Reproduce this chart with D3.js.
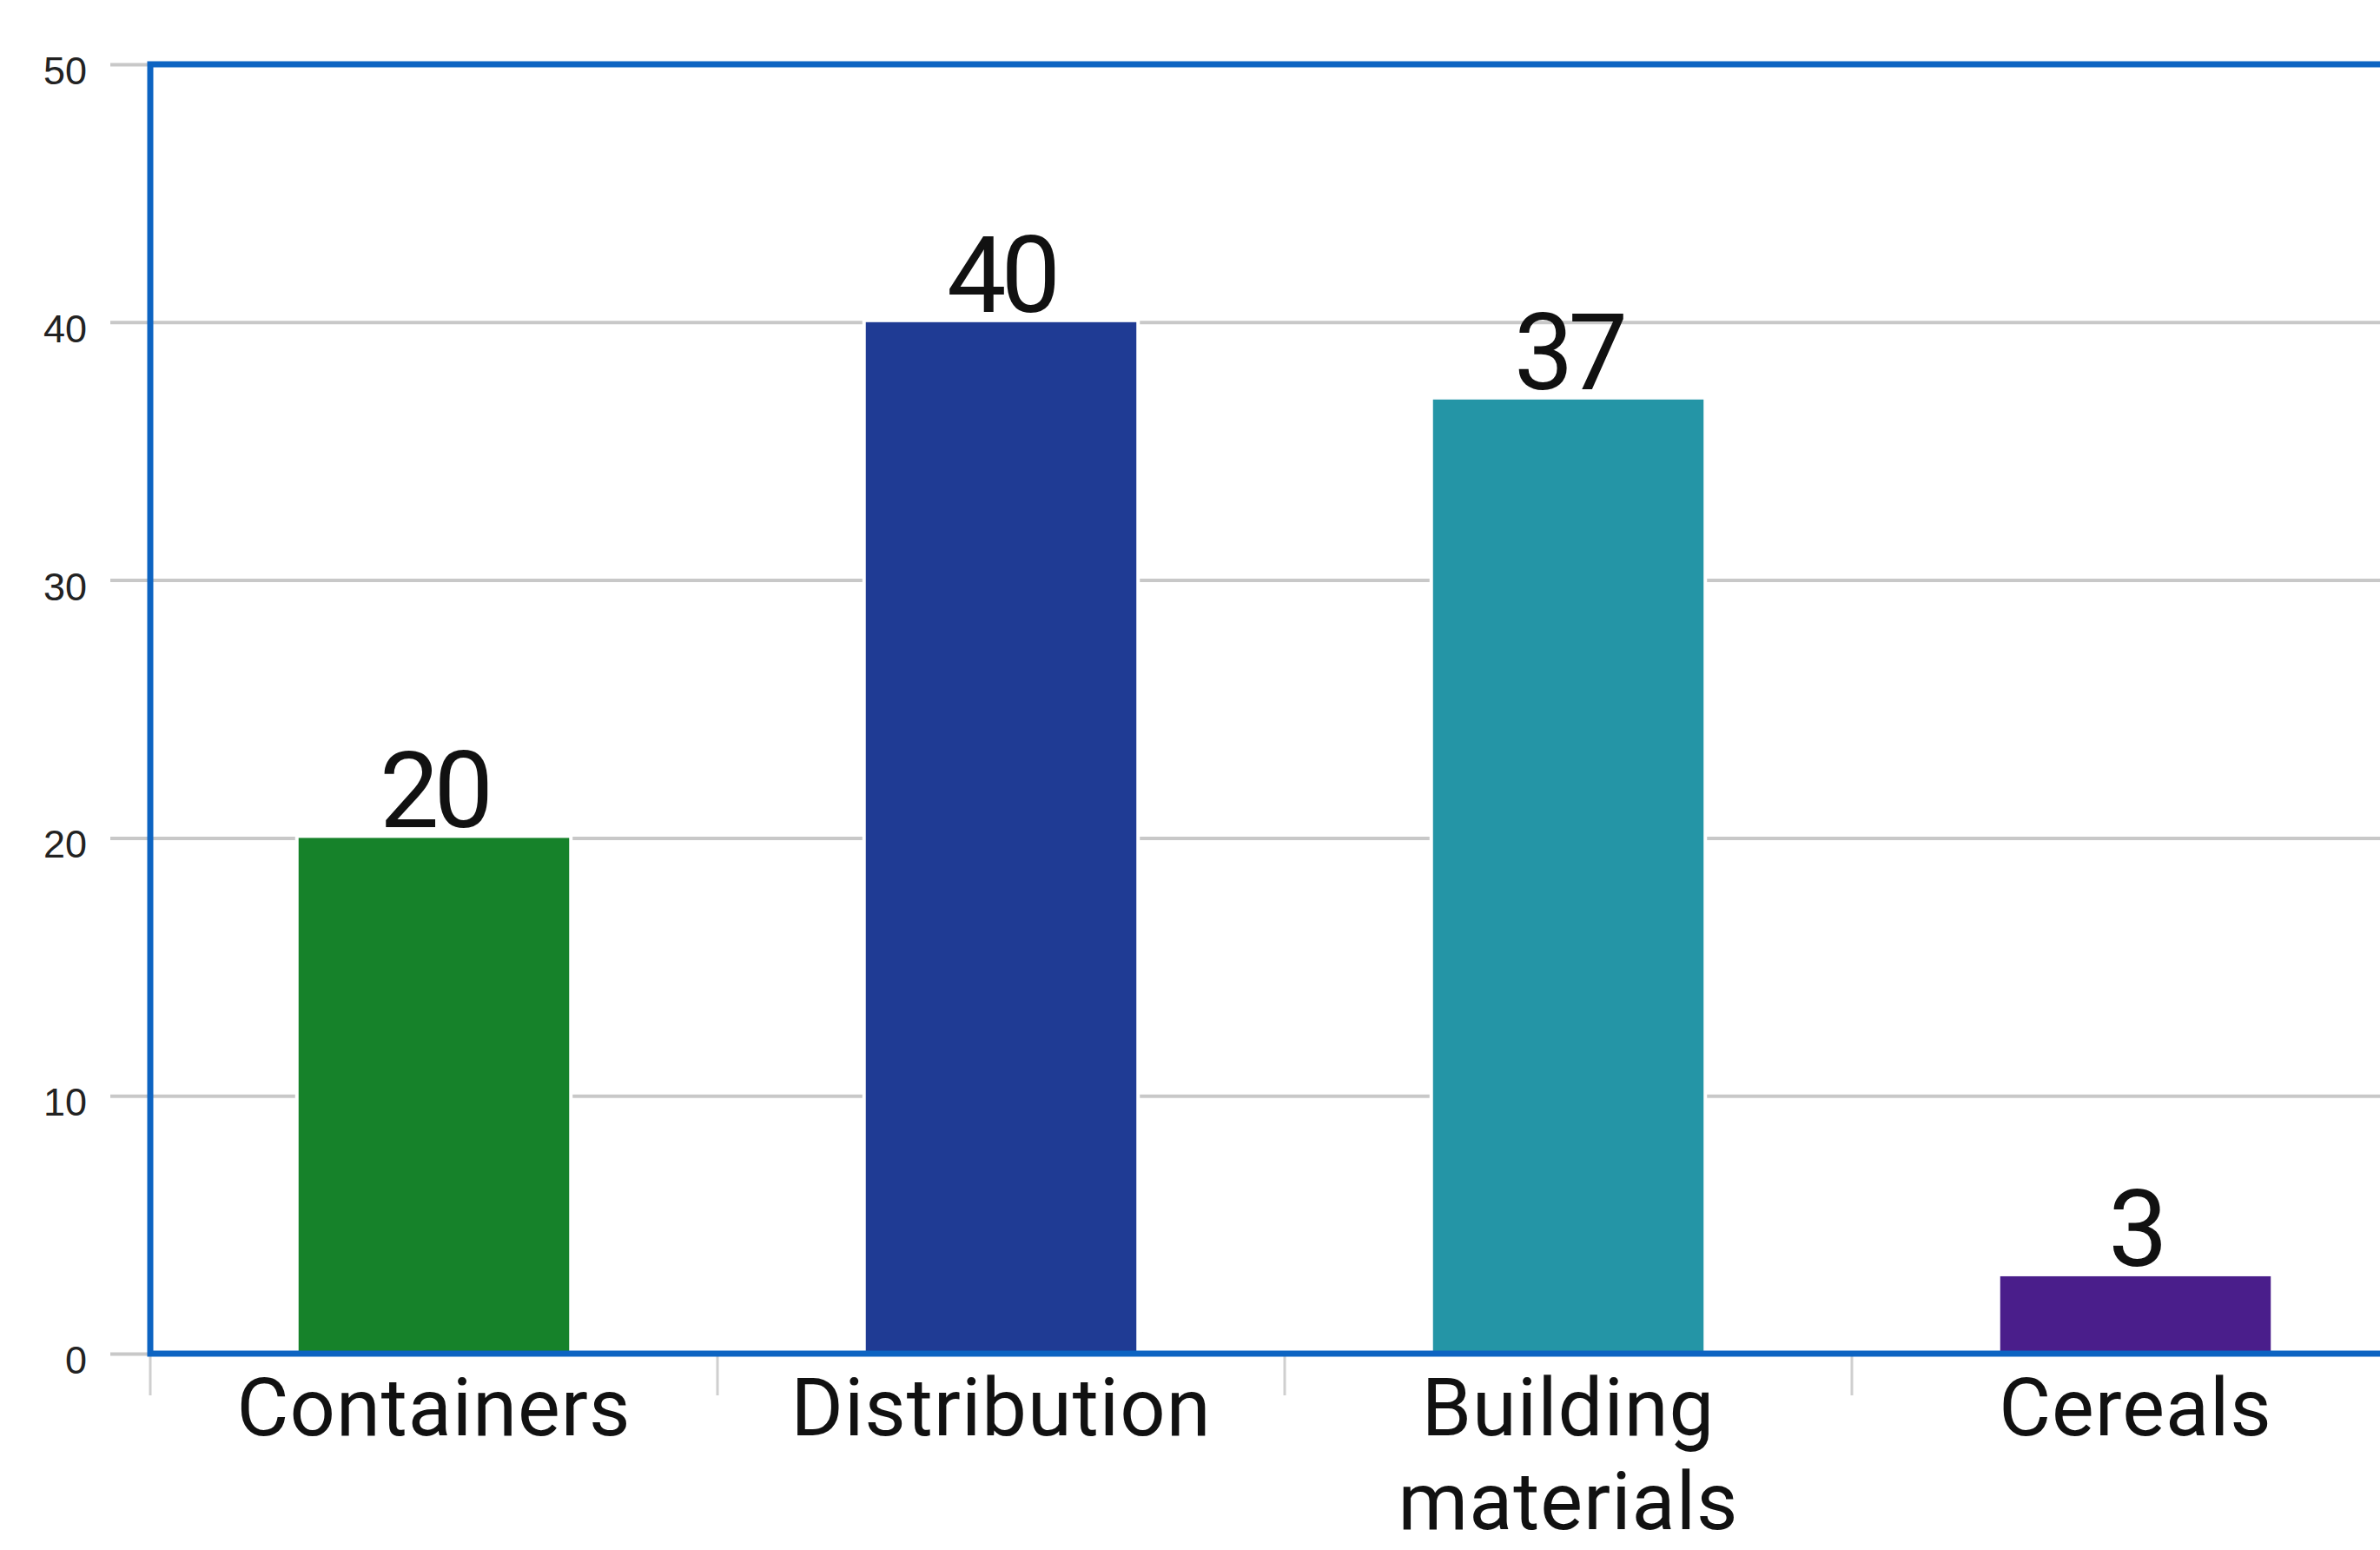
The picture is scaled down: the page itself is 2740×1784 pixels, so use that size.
<!DOCTYPE html>
<html>
<head>
<meta charset="utf-8">
<script src="https://cdn.jsdelivr.net/npm/d3@7"></script>
<style>
  html, body { margin: 0; padding: 0; background: #ffffff; overflow: hidden; }
  svg { display: block; }
</style>
</head>
<body>
<script>
// ---- data ----
const categories = ["Containers", "Distribution", "Building materials", "Cereals"];
const categoryLines = [["Containers"], ["Distribution"], ["Building", "materials"], ["Cereals"]];
const values = [20, 40, 37, 3];
const barColors = ["#16822a", "#1f3b94", "#2495a6", "#4a1e8b"];
const yTicks = [0, 10, 20, 30, 40, 50];

// ---- layout ----
const W = 2740, H = 1784;
const mLeft = 173, mRight = 2785, mTop = 74, mBottom = 1558;

const svg = d3.select("body").append("svg").attr("width", W).attr("height", H);
svg.append("rect").attr("width", W).attr("height", H).attr("fill", "#ffffff");

const y = d3.scaleLinear().domain([0, 50]).range([mBottom, mTop]);
const xOuter = d3.scaleBand().domain(categories).range([mLeft, mRight]).padding(0);
const xBar = d3.scaleBand().domain(categories).range([mLeft, mRight])
  .paddingInner(0.523).paddingOuter(0.2615);

// gridlines + left tick stubs
const gy = svg.append("g").attr("transform", `translate(${mLeft - 46},0)`);
gy.call(d3.axisLeft(y).tickValues(yTicks).tickSize(0).tickFormat(""));
gy.select(".domain").remove();
gy.selectAll(".tick").append("line")
  .attr("x1", 0).attr("x2", mRight - mLeft + 46)
  .attr("stroke", "#c8c8c8").attr("stroke-width", 4);

// y tick labels
const gyl = svg.append("g").attr("transform", `translate(100,0)`);
gyl.call(d3.axisLeft(y).tickValues(yTicks).tickSize(0).tickPadding(0).tickFormat(d3.format("d")));
gyl.select(".domain").remove();
gyl.selectAll(".tick text")
  .attr("font-family", "'Liberation Sans', Arial, sans-serif")
  .attr("font-size", 45)
  .attr("fill", "#222")
  .attr("dy", "0.5em")
  .attr("text-anchor", "end");

// x category ticks below axis
svg.append("g").selectAll("line").data(categories).join("line")
  .attr("x1", d => xOuter(d)).attr("x2", d => xOuter(d))
  .attr("y1", mBottom).attr("y2", mBottom + 48)
  .attr("stroke", "#cfcfcf").attr("stroke-width", 3);

// bars
svg.append("g").selectAll("rect").data(categories).join("rect")
  .attr("x", d => xBar(d))
  .attr("y", (d, i) => y(values[i]))
  .attr("width", xBar.bandwidth())
  .attr("height", (d, i) => mBottom - y(values[i]))
  .attr("fill", (d, i) => barColors[i])
  .attr("stroke", "#ffffff").attr("stroke-width", 8).attr("paint-order", "stroke");

// frame (top, left, bottom in blue)
svg.append("rect")
  .attr("x", mLeft).attr("y", mTop)
  .attr("width", mRight - mLeft).attr("height", mBottom - mTop)
  .attr("fill", "none").attr("stroke", "#0d64c2").attr("stroke-width", 7);

// value labels
svg.append("g").selectAll("text").data(categories).join("text")
  .attr("x", d => xBar(d) + xBar.bandwidth() / 2)
  .attr("y", (d, i) => y(values[i]) - 12)
  .attr("text-anchor", "middle")
  .attr("font-family", "Roboto, sans-serif")
  .attr("font-size", 122)
  .attr("letter-spacing", -6)
  .attr("fill", "#111")
  .text((d, i) => values[i]);

// category labels
const cl = svg.append("g").selectAll("text").data(categories).join("text")
  .attr("x", d => xOuter(d) + xOuter.bandwidth() / 2)
  .attr("y", 1652)
  .attr("text-anchor", "middle")
  .attr("font-family", "Roboto, sans-serif")
  .attr("font-size", 92)
  .attr("letter-spacing", 1)
  .attr("fill", "#111");
cl.each(function(d, i) {
  const t = d3.select(this);
  categoryLines[i].forEach((line, j) => {
    t.append("tspan")
      .attr("x", xOuter(d) + xOuter.bandwidth() / 2)
      .attr("dy", j === 0 ? 0 : 108)
      .text(line);
  });
});
</script>
</body>
</html>
